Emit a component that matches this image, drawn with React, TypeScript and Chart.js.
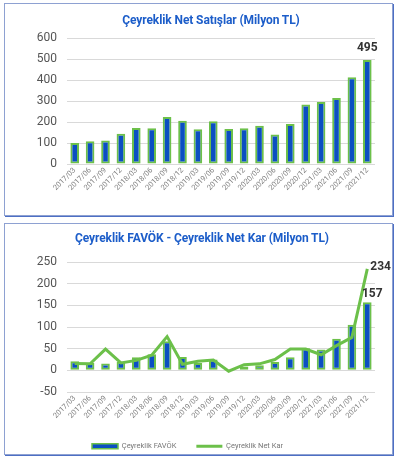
import React, { useEffect, useRef } from "react";
import { Chart, registerables } from "chart.js";

Chart.register(...registerables);

// ---------- DATA ----------
const categories = [
  "2017/03", "2017/06", "2017/09", "2017/12",
  "2018/03", "2018/06", "2018/09", "2018/12",
  "2019/03", "2019/06", "2019/09", "2019/12",
  "2020/03", "2020/06", "2020/09", "2020/12",
  "2021/03", "2021/06", "2021/09", "2021/12",
];
const netSales = [100, 108, 112, 144, 172, 170, 224, 206, 166, 203, 167, 170, 182, 141, 191, 283, 295, 314, 413, 495];
const favok = [21, 17, 16, 20, 30, 37, 67, 31, 17, 25, 1, 9, 12, 19, 30, 51, 48, 73, 105, 157];
const netKar = [16, 15, 49, 17, 23, 35, 78, 14, 21, 24, -2, 13, 15, 25, 49, 49, 36, 57, 76, 234];

const salesTitle = "Çeyreklik Net Satışlar (Milyon TL)";
const profitTitle = "Çeyreklik FAVÖK - Çeyreklik Net Kar (Milyon TL)";
const favokLabel = "Çeyreklik FAVÖK";
const netKarLabel = "Çeyreklik Net Kar";

const salesAxis = { min: 0, max: 600, step: 100 };
const profitAxis = { min: -50, max: 250, step: 50 };

// ---------- STYLE ----------
const BLUE = "#0b4fc2";
const GREEN = "#6cc04a";
const TITLE_BLUE = "#1c5dc9";
const GRID = "#d9d9d9";
const FONT = "Roboto";

const valueLabelPlugin = {
  id: "valueLabels",
  afterDatasetsDraw(chart: any, _args: any, opts: any) {
    const { ctx } = chart;
    (opts.items || []).forEach((item: any) => {
      const meta = chart.getDatasetMeta(item.datasetIndex);
      const el = meta.data[item.index];
      if (!el) return;
      const v = chart.data.datasets[item.datasetIndex].data[item.index];
      ctx.save();
      ctx.font = `bold 12px ${FONT}`;
      ctx.fillStyle = "#333333";
      ctx.textAlign = item.align;
      ctx.textBaseline = item.baseline;
      ctx.fillText(String(v), el.x + item.dx, el.y + item.dy);
      ctx.restore();
    });
  },
};

function xScale(height: number) {
  return {
    offset: true,
    grid: { display: false, drawTicks: false },
    border: { display: false },
    ticks: {
      autoSkip: false,
      maxRotation: 45,
      minRotation: 45,
      padding: 2,
      color: "#808080",
      font: { family: FONT, size: 7.5 },
    },
    afterFit(scale: any) {
      scale.height = height;
    },
  };
}

function yScale(ax: { min: number; max: number; step: number }) {
  return {
    min: ax.min,
    max: ax.max,
    grid: { color: GRID, lineWidth: 1, drawTicks: false },
    border: { display: false },
    ticks: {
      stepSize: ax.step,
      padding: 10,
      color: "#555555",
      font: { family: FONT, size: 12 },
    },
    afterFit(scale: any) {
      scale.width = 67;
    },
  };
}

function SalesChart() {
  const ref = useRef<HTMLCanvasElement | null>(null);
  useEffect(() => {
    if (!ref.current) return;
    const chart = new Chart(ref.current, {
      type: "bar",
      data: {
        labels: categories,
        datasets: [
          {
            label: "Net Satışlar",
            data: netSales,
            backgroundColor: BLUE,
            borderColor: GREEN,
            borderWidth: 2,
            borderSkipped: false,
            barPercentage: 0.56,
            categoryPercentage: 1,
          },
        ],
      },
      options: {
        responsive: false,
        animation: false,
        devicePixelRatio: 1,
        layout: { padding: { left: 0, right: 23, top: 38, bottom: 0 } },
        scales: { x: xScale(56) as any, y: yScale(salesAxis) as any },
        plugins: {
          legend: { display: false },
          tooltip: { enabled: false },
          valueLabels: {
            items: [{ datasetIndex: 0, index: netSales.length - 1, dx: 0, dy: -6, align: "center", baseline: "bottom" }],
          },
        } as any,
      },
      plugins: [valueLabelPlugin],
    });
    return () => chart.destroy();
  }, []);
  return <canvas ref={ref} width={398} height={220} style={{ position: "absolute", left: 0, top: 0, width: 398, height: 220 }} />;
}

function ProfitChart() {
  const ref = useRef<HTMLCanvasElement | null>(null);
  useEffect(() => {
    if (!ref.current) return;
    const chart = new Chart(ref.current, {
      type: "bar",
      data: {
        labels: categories,
        datasets: [
          {
            type: "line",
            label: netKarLabel,
            data: netKar,
            borderColor: GREEN,
            backgroundColor: GREEN,
            borderWidth: 3,
            pointRadius: 0,
            tension: 0,
            order: 0,
          } as any,
          {
            type: "bar",
            label: favokLabel,
            data: favok,
            backgroundColor: BLUE,
            borderColor: GREEN,
            borderWidth: 2,
            borderSkipped: false,
            barPercentage: 0.56,
            categoryPercentage: 1,
            order: 1,
          },
        ],
      },
      options: {
        responsive: false,
        animation: false,
        devicePixelRatio: 1,
        layout: { padding: { left: 0, right: 23, top: 42, bottom: 0 } },
        scales: { x: xScale(30.5) as any, y: yScale(profitAxis) as any },
        plugins: {
          tooltip: { enabled: false },
          legend: {
            position: "bottom",
            labels: {
              usePointStyle: true,
              pointStyleWidth: 26,
              boxHeight: 5,
              padding: 20,
              color: "#777777",
              font: { family: FONT, size: 7.5 },
              generateLabels: () => [
                { text: favokLabel, fillStyle: BLUE, strokeStyle: GREEN, lineWidth: 1.5, pointStyle: "rect", datasetIndex: 1, hidden: false, fontColor: "#777777" },
                { text: netKarLabel, fillStyle: GREEN, strokeStyle: GREEN, lineWidth: 3, pointStyle: "line", datasetIndex: 0, hidden: false, fontColor: "#777777" },
              ],
            },
          },
          valueLabels: {
            items: [
              { datasetIndex: 1, index: favok.length - 1, dx: 5, dy: -2, align: "center", baseline: "bottom" },
              { datasetIndex: 0, index: netKar.length - 1, dx: 3, dy: -2, align: "left", baseline: "middle" },
            ],
          },
        } as any,
      },
      plugins: [valueLabelPlugin],
    });
    return () => chart.destroy();
  }, []);
  return <canvas ref={ref} width={398} height={240} style={{ position: "absolute", left: 0, top: 220, width: 398, height: 240 }} />;
}

const panelStyle = (top: number, height: number): React.CSSProperties => ({
  position: "absolute",
  left: 4,
  top,
  width: 389,
  height,
  border: "1px solid #8ea1d2",
  boxShadow: "1px 1px 0 #4d6fc4",
  background: "#ffffff",
  boxSizing: "border-box",
});

const titleStyle = (top: number, center: number): React.CSSProperties => ({
  position: "absolute",
  left: center - 200,
  width: 400,
  top,
  textAlign: "center",
  fontFamily: FONT,
  fontWeight: 700,
  fontSize: 12,
  lineHeight: "15px",
  letterSpacing: "-0.1px",
  color: TITLE_BLUE,
  whiteSpace: "nowrap",
});

export default function App() {
  return (
    <div style={{ position: "absolute", left: 0, top: 0, width: 398, height: 460, background: "#ffffff", overflow: "hidden" }}>
      <div style={panelStyle(3, 213)} />
      <div style={panelStyle(223, 232)} />
      <SalesChart />
      <ProfitChart />
      <div style={titleStyle(13, 211)}>{salesTitle}</div>
      <div style={titleStyle(231, 202)}>{profitTitle}</div>
    </div>
  );
}
